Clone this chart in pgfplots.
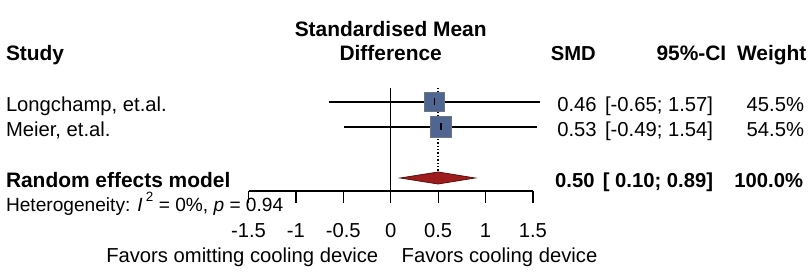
\documentclass[border=0pt]{standalone}
\usepackage{fontspec}
\setmainfont{Liberation Sans}
\usepackage{pgfplots}
\pgfplotsset{compat=1.18}
\definecolor{sq}{HTML}{4F6592}
\definecolor{sqline}{HTML}{6E7480}
\definecolor{dia}{HTML}{9E1C1C}
\definecolor{dialine}{HTML}{5A1010}
\newcommand\fs{\fontsize{20.3}{24}\selectfont}
\newcommand\fb{\fontsize{21}{24}\selectfont\bfseries}
\newcommand\fv{\fontsize{20.3}{24}\selectfont\bfseries}
\newcommand\fh{\fontsize{19.2}{22}\selectfont}
\tikzset{lab/.style={font=\fs, inner sep=0pt, outer sep=0pt, text=black}}
\begin{document}
\begin{tikzpicture}
\begin{axis}[
  at={(0,0)}, anchor=south west,
  scale only axis, width=810bp, height=280bp,
  hide axis, clip=false,
  xmin=-4.1213, xmax=4.4230, ymin=-280, ymax=0,
]
\path (rel axis cs:0,0) rectangle (rel axis cs:1,1);
% reference line at 0 and dotted line at pooled estimate
\addplot[black, line width=1.2bp] coordinates {(0,-88) (0,-191)};
\addplot[black, dotted, line width=1.4bp] coordinates {(0.50,-88) (0.50,-172)};
% x axis
\addplot[black, line width=1.2bp] coordinates {(-1.5,-191) (1.5,-191)};
\draw[black, line width=1.2bp] (axis cs:-1.5,-191) -- (axis cs:-1.5,-203);
\draw[black, line width=1.2bp] (axis cs:-1,-191) -- (axis cs:-1,-203);
\draw[black, line width=1.2bp] (axis cs:-0.5,-191) -- (axis cs:-0.5,-203);
\draw[black, line width=1.2bp] (axis cs:0,-191) -- (axis cs:0,-203);
\draw[black, line width=1.2bp] (axis cs:0.5,-191) -- (axis cs:0.5,-203);
\draw[black, line width=1.2bp] (axis cs:1,-191) -- (axis cs:1,-203);
\draw[black, line width=1.2bp] (axis cs:1.5,-191) -- (axis cs:1.5,-203);
% confidence intervals
\addplot[black, line width=1.3bp] coordinates {(-0.65,-102) (1.57,-102)};
\addplot[black, line width=1.3bp] coordinates {(-0.49,-127) (1.54,-127)};
% study squares
\addplot[only marks, mark=square*, mark size=9.8bp, mark options={fill=sq, draw=sqline, line width=0.6bp}] coordinates {(0.46,-102)};
\addplot[only marks, mark=square*, mark size=10.6bp, mark options={fill=sq, draw=sqline, line width=0.6bp}] coordinates {(0.53,-127)};
% point estimate ticks
\addplot[only marks, mark=|, mark size=3.5bp, mark options={black, line width=1.6bp}] coordinates {(0.46,-102) (0.53,-127)};
% pooled diamond
\addplot[fill=dia, draw=dialine, line width=0.8bp] coordinates {(0.10,-178) (0.50,-172) (0.89,-178) (0.50,-184)} -- cycle;
% headers
\node[lab, anchor=base, font=\fb] at (axis cs:0,-36.5) {Standardised Mean};
\node[lab, anchor=base, font=\fb] at (axis cs:0,-60.5) {Difference};
\node[lab, anchor=base west, font=\fb] at (axis cs:-4.058,-60.5) {Study};
\node[lab, anchor=base east, font=\fv] at (axis cs:2.163,-60.5) {SMD};
\node[lab, anchor=base east, font=\fb] at (axis cs:3.540,-60.5) {95\%-CI};
\node[lab, anchor=base east, font=\fb] at (axis cs:4.385,-60.5) {Weight};
% study rows
\node[lab, anchor=base west] at (axis cs:-4.058,-111) {Longchamp, et.al.};
\node[lab, anchor=base west] at (axis cs:-4.058,-136.5) {Meier, et.al.};
\node[lab, anchor=base east] at (axis cs:2.173,-111) {0.46};
\node[lab, anchor=base east] at (axis cs:2.173,-136.5) {0.53};
\node[lab, anchor=base east] at (axis cs:3.400,-111) {[-0.65; 1.57]};
\node[lab, anchor=base east] at (axis cs:3.400,-136.5) {[-0.49; 1.54]};
\node[lab, anchor=base east] at (axis cs:4.360,-111) {45.5\%};
\node[lab, anchor=base east] at (axis cs:4.360,-136.5) {54.5\%};
% pooled row
\node[lab, anchor=base west, font=\fb] at (axis cs:-4.058,-187) {Random effects model};
\node[lab, anchor=base east, font=\fv] at (axis cs:2.150,-187) {0.50};
\node[lab, anchor=base east, font=\fv] at (axis cs:3.400,-187) {[ 0.10; 0.89]};
\node[lab, anchor=base east, font=\fv] at (axis cs:4.350,-187) {100.0\%};
\node[lab, anchor=base west, font=\fh] at (axis cs:-4.058,-211.5) {Heterogeneity: \textit{I}\,\raisebox{0.5em}{\fontsize{13.5}{13.5}\selectfont 2} = 0\%, \textit{p} = 0.94};
% tick labels
\node[lab, anchor=base] at (axis cs:-1.5,-237) {-1.5};
\node[lab, anchor=base] at (axis cs:-1,-237) {-1};
\node[lab, anchor=base] at (axis cs:-0.5,-237) {-0.5};
\node[lab, anchor=base] at (axis cs:0,-237) {0};
\node[lab, anchor=base] at (axis cs:0.5,-237) {0.5};
\node[lab, anchor=base] at (axis cs:1,-237) {1};
\node[lab, anchor=base] at (axis cs:1.5,-237) {1.5};
% direction labels
\node[lab, anchor=base east] at (axis cs:-0.131,-262.5) {Favors omitting cooling device};
\node[lab, anchor=base west] at (axis cs:0.116,-262.5) {Favors cooling device};
\end{axis}
\end{tikzpicture}
\end{document}
